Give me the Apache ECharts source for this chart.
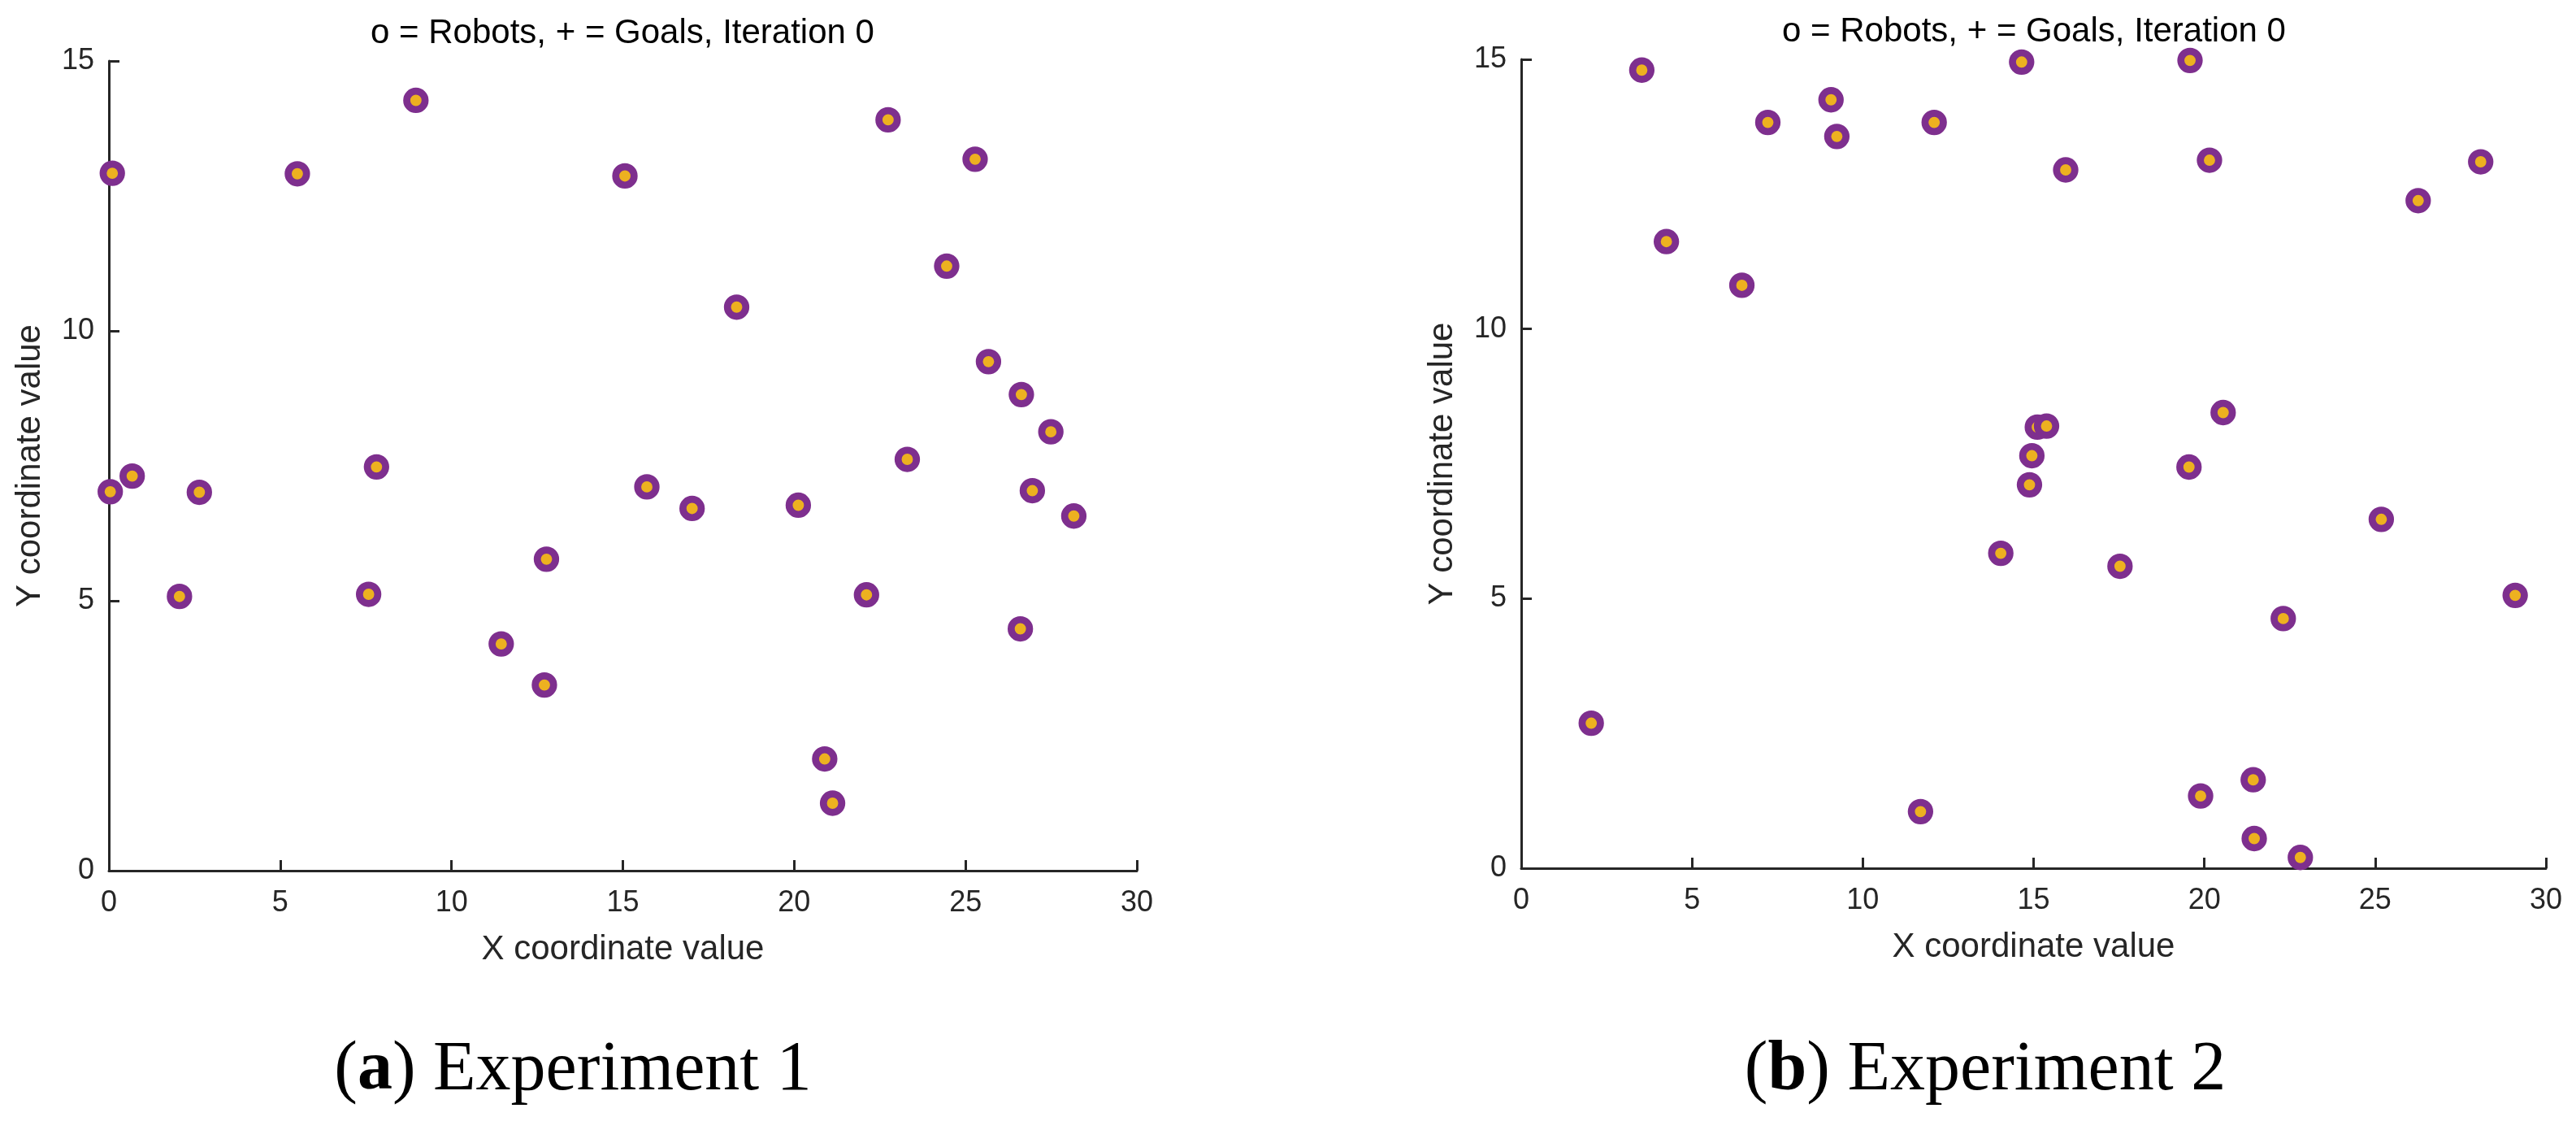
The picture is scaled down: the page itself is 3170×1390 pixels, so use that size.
<!DOCTYPE html>
<html>
<head>
<meta charset="utf-8">
<script src="https://cdn.jsdelivr.net/npm/echarts@6/dist/echarts.min.js"></script>
<style>
    html, body { margin: 0; padding: 0; background: #fff; }
    #main { width: 3170px; height: 1390px; }
</style>
</head>
<body>
<div id="main"></div>
<script>
// Experiment 1 (robot / goal positions, iteration 0)
var exp1X = [0.10, 5.50, 8.96, 15.06, 0.68, 0.04, 2.64, 7.81, 2.06, 7.58, 12.77, 11.45, 12.71, 15.70, 22.74,
    25.28, 24.45, 18.32, 25.67, 26.63, 27.49, 23.30, 17.02, 20.12, 26.95, 28.16, 22.11, 26.60, 20.89, 21.12];
var exp1Y = [12.92, 12.91, 14.27, 12.87, 7.31, 7.02, 7.01, 7.48, 5.08, 5.12, 5.77, 4.20, 3.44, 7.11, 13.91,
    13.18, 11.20, 10.44, 9.43, 8.82, 8.13, 7.62, 6.71, 6.77, 7.04, 6.57, 5.11, 4.48, 2.07, 1.25];

// Experiment 2
var exp2X = [3.53, 7.22, 9.07, 9.24, 12.09, 4.25, 6.46, 14.65, 19.58, 15.94, 20.15, 28.09, 26.26, 20.55, 15.11,
    15.38, 14.95, 19.55, 14.88, 25.18, 14.04, 17.53, 29.10, 22.31, 21.43, 19.89, 21.46, 22.81, 2.05, 11.69];
var exp2Y = [14.80, 13.83, 14.25, 13.57, 13.83, 11.62, 10.81, 14.95, 14.98, 12.95, 13.13, 13.10, 12.38, 8.45, 8.18,
    8.20, 7.65, 7.44, 7.11, 6.47, 5.84, 5.60, 5.06, 4.63, 1.64, 1.34, 0.55, 0.20, 2.69, 1.05];

var xTicks = [0, 5, 10, 15, 20, 25, 30];
var yTicks = [0, 5, 10, 15];

var plotTitle = 'o = Robots, + = Goals, Iteration 0';
var captions = ['({ab|a}) Experiment 1', '({ab|b}) Experiment 2'];

var axisColor = '#262626';
var sansFont = '"Liberation Sans", Arial, sans-serif';
var serifFont = '"Liberation Serif", "Times New Roman", serif';

function toPoints(xs, ys) {
    var pts = [];
    for (var i = 0; i < xs.length; i++) {
        pts.push([xs[i], ys[i]]);
    }
    return pts;
}

function makeXAxis(gridIndex) {
    return {
        gridIndex: gridIndex,
        type: 'value',
        min: xTicks[0],
        max: xTicks[xTicks.length - 1],
        interval: 5,
        name: 'X coordinate value',
        nameLocation: 'middle',
        nameGap: 76,
        nameTextStyle: { fontFamily: sansFont, fontSize: 42, color: axisColor },
        axisLine: { onZero: false, lineStyle: { color: axisColor, width: 3 } },
        axisTick: { inside: true, length: 13, lineStyle: { color: axisColor, width: 3 } },
        axisLabel: { margin: 22, fontFamily: sansFont, fontSize: 36, color: axisColor },
        splitLine: { show: false }
    };
}

function makeYAxis(gridIndex) {
    return {
        gridIndex: gridIndex,
        type: 'value',
        min: yTicks[0],
        max: yTicks[yTicks.length - 1],
        interval: 5,
        name: 'Y coordinate value',
        nameLocation: 'middle',
        nameGap: 76,
        nameTextStyle: { fontFamily: sansFont, fontSize: 42, color: axisColor },
        axisLine: { onZero: false, lineStyle: { color: axisColor, width: 3 } },
        axisTick: { inside: true, length: 13, lineStyle: { color: axisColor, width: 3 } },
        axisLabel: { margin: 18, fontFamily: sansFont, fontSize: 36, color: axisColor },
        splitLine: { show: false }
    };
}

function makeSeries(name, idx, xs, ys) {
    return {
        name: name,
        type: 'scatter',
        xAxisIndex: idx,
        yAxisIndex: idx,
        clip: false,
        symbol: 'circle',
        symbolSize: 22.6,
        itemStyle: {
            color: '#EDB120',
            borderColor: '#7E2F8E',
            borderWidth: 8.7,
            opacity: 1
        },
        data: toPoints(xs, ys)
    };
}

function initChart() {
    var chart = echarts.init(document.getElementById('main'), null, { renderer: 'canvas' });
    var option = {
        backgroundColor: '#fff',
        animation: false,
        title: [{
            text: plotTitle,
            left: 766, top: 41, padding: 0,
            textAlign: 'center', textVerticalAlign: 'middle',
            textStyle: { fontFamily: sansFont, fontSize: 42, fontWeight: 'normal', color: '#000' }
        }, {
            text: plotTitle,
            left: 2503, top: 39, padding: 0,
            textAlign: 'center', textVerticalAlign: 'middle',
            textStyle: { fontFamily: sansFont, fontSize: 42, fontWeight: 'normal', color: '#000' }
        }, {
            text: captions[0],
            left: 705, top: 1317, padding: 0,
            textAlign: 'center', textVerticalAlign: 'middle',
            textStyle: {
                fontFamily: serifFont, fontSize: 86, fontWeight: 'normal', color: '#000',
                rich: { ab: { fontFamily: serifFont, fontSize: 86, fontWeight: 'bold', color: '#000' } }
            }
        }, {
            text: captions[1],
            left: 2443, top: 1317, padding: 0,
            textAlign: 'center', textVerticalAlign: 'middle',
            textStyle: {
                fontFamily: serifFont, fontSize: 86, fontWeight: 'normal', color: '#000',
                rich: { ab: { fontFamily: serifFont, fontSize: 86, fontWeight: 'bold', color: '#000' } }
            }
        }],
        grid: [
            { left: 134, top: 75, width: 1265, height: 996 },
            { left: 1872, top: 73, width: 1261, height: 995 }
        ],
        xAxis: [makeXAxis(0), makeXAxis(1)],
        yAxis: [makeYAxis(0), makeYAxis(1)],
        series: [
            makeSeries('Experiment 1', 0, exp1X, exp1Y),
            makeSeries('Experiment 2', 1, exp2X, exp2Y)
        ]
    };
    chart.setOption(option);
    return chart;
}

var chart = initChart();
</script>
</body>
</html>
